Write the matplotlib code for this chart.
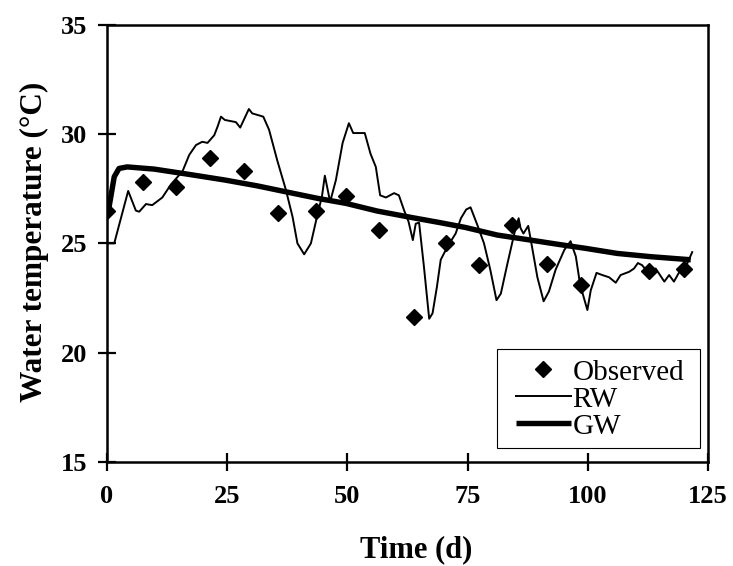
import matplotlib
matplotlib.use("Agg")
import matplotlib.pyplot as plt
from matplotlib.patches import Rectangle

plt.rcParams["font.family"] = ["Liberation Serif", "DejaVu Serif"]

# ── data ─────────────────────────────────────────────────
obs_day  = [0.1, 7.4, 14.3, 21.4, 28.5, 35.6, 43.4, 49.7, 56.6, 63.8,
            70.4, 77.4, 84.3, 91.6, 98.5, 112.7, 119.9]
obs_temp = [26.5, 27.8, 27.6, 28.9, 28.3, 26.4, 26.5, 27.15, 25.6, 21.65,
            25.0, 24.0, 25.85, 24.05, 23.1, 23.75, 23.85]

rw_day  = [0, 1.5, 4.4, 6.0, 6.7, 8.1, 9.4, 11.5, 13.3, 15.7,
           17.1, 18.5, 19.8, 20.9, 22.3, 23.0, 23.7, 24.5, 26.8, 27.7,
           29.5, 30.2, 32.5, 33.7, 35.4, 37.2, 38.6, 39.6, 41.0, 42.4,
           43.8, 44.7, 45.3, 46.4, 47.6, 49.0, 50.3, 51.2, 52.4, 53.6,
           54.8, 55.9, 56.8, 58.0, 59.7, 60.7, 61.8, 62.7, 63.6, 64.2,
           64.9, 65.9, 67.0, 67.7, 68.6, 69.4, 70.8, 72.5, 73.6, 74.7,
           75.6, 77.0, 78.4, 79.7, 81.0, 81.9, 83.3, 84.7, 85.6, 86.0,
           86.6, 87.6, 88.5, 89.5, 90.8, 91.9, 93.3, 95.1, 96.4, 97.5,
           98.4, 99.9, 100.6, 101.8, 103.0, 104.4, 105.8, 106.8, 108.6, 109.6,
           110.4, 111.3, 112.7, 114.1, 115.9, 116.9, 117.9, 119.3, 120.7, 121.7]
rw_temp = [25.0, 25.0, 27.4, 26.5, 26.45, 26.8, 26.75, 27.1, 27.7, 28.3,
           29.05, 29.5, 29.65, 29.6, 29.95, 30.35, 30.8, 30.65, 30.55, 30.3,
           31.15, 30.95, 30.8, 30.2, 28.8, 27.45, 26.2, 25.0, 24.5, 25.0,
           26.35, 27.15, 28.1, 26.9, 27.9, 29.6, 30.5, 30.05, 30.05, 30.05,
           29.1, 28.5, 27.2, 27.1, 27.3, 27.2, 26.5, 26.0, 25.15, 25.9,
           25.95, 23.95, 21.55, 21.8, 23.0, 24.25, 24.85, 25.45, 26.15, 26.55,
           26.65, 25.85, 25.0, 23.8, 22.4, 22.7, 24.1, 25.45, 26.15, 25.7,
           25.45, 25.8, 24.7, 23.45, 22.35, 22.8, 23.8, 24.7, 25.1, 24.4,
           23.1, 21.95, 22.85, 23.65, 23.55, 23.45, 23.2, 23.55, 23.7, 23.85,
           24.1, 24.0, 23.6, 23.85, 23.25, 23.55, 23.25, 23.8, 24.1, 24.6]

gw_day  = [0.3, 1.5, 2.5, 4.2, 9.8, 16.7, 24.5, 31.3, 37.2, 43.8, 49.7,
           56.2, 63.2, 69.0, 74.5, 81.2, 88.1, 94.0, 99.6, 106.1, 113.1, 121.4]
gw_temp = [26.5, 28.05, 28.43, 28.5, 28.4, 28.17, 27.9, 27.63, 27.36, 27.06, 26.83,
           26.48, 26.19, 25.96, 25.73, 25.38, 25.15, 24.95, 24.77, 24.54, 24.39, 24.25]

x_ticks = [0, 25, 50, 75, 100, 125]
y_ticks = [15, 20, 25, 30, 35]

# ── figure ───────────────────────────────────────────────
fig = plt.figure(figsize=(7.33, 5.66), dpi=100)
ax = fig.add_axes([0.146, 0.184, 0.82, 0.772])

ax.plot(rw_day, rw_temp, color="black", lw=1.4, label="RW", zorder=2)
ax.plot(gw_day, gw_temp, color="black", lw=3.9, label="GW",
        solid_capstyle="butt", zorder=3)
ax.plot(obs_day, obs_temp, ls="none", marker="D", ms=8, color="black",
        label="Observed", zorder=4)

ax.set_xlim(0, 125)
ax.set_ylim(15, 35)
ax.set_xticks(x_ticks)
ax.set_yticks(y_ticks)
ax.tick_params(direction="inout", length=13, width=1.6, labelsize=19)
ax.tick_params(axis="x", pad=10)
ax.tick_params(axis="y", pad=8)
for lab in ax.get_xticklabels() + ax.get_yticklabels():
    lab.set_fontweight("bold")
for s in ax.spines.values():
    s.set_linewidth(1.8)

ax.set_xlabel("Time (d)", fontsize=22, fontweight="bold")
ax.set_ylabel("Water temperature (°C)", fontsize=22.5, fontweight="bold")
ax.xaxis.set_label_coords(0.515, -0.168)
ax.yaxis.set_label_coords(-0.097, 0.503)

# legend box drawn separately so the padding can match the original
ax.add_patch(Rectangle((0.649, 0.032), 0.338, 0.227, transform=ax.transAxes,
                       facecolor="white", edgecolor="black", lw=0.8, zorder=5))
h, l = ax.get_legend_handles_labels()
order = [2, 0, 1]
leg = ax.legend([h[i] for i in order], [l[i] for i in order],
                loc="center", bbox_to_anchor=(0.82, 0.143),
                borderaxespad=0, fontsize=21, numpoints=1,
                handlelength=1.9, handletextpad=0.05, labelspacing=0.02,
                borderpad=0, frameon=False)
leg.set_zorder(6)

fig.savefig("out.png", dpi=100)
